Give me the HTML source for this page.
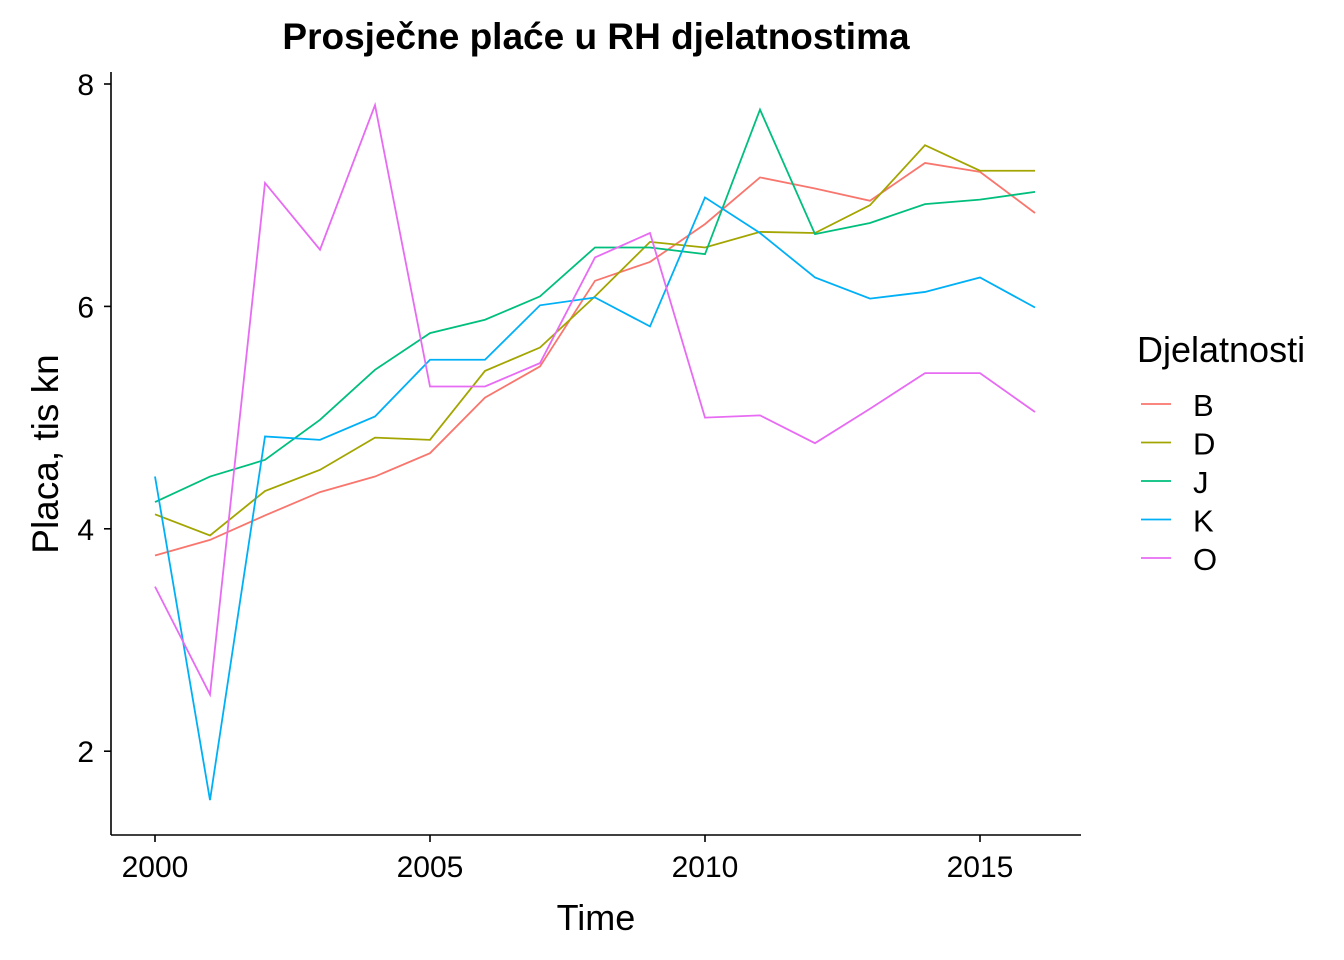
<!DOCTYPE html>
<html><head><meta charset="utf-8"><style>
body{margin:0;background:#fff;}
svg{display:block;font-family:"Liberation Sans",Arial,sans-serif;}
</style></head><body>
<svg id="chart" width="1344" height="960">
<text x="596" y="49" text-anchor="middle" font-size="37" font-weight="bold">Prosječne plaće u RH djelatnostima</text>
<g id="axes"></g>
<g id="lines"></g>
<text x="596" y="930" text-anchor="middle" font-size="36">Time</text>
<text transform="translate(58,454) rotate(-90)" text-anchor="middle" font-size="37">Placa, tis kn</text>
<text x="1137" y="362" font-size="36">Djelatnosti</text>
<g id="legend"></g>
</svg>
<script>
const years=[2000,2001,2002,2003,2004,2005,2006,2007,2008,2009,2010,2011,2012,2013,2014,2015,2016];
const seriesNames=["B","D","J","K","O"];
const seriesColors=["#F8766D","#A3A500","#00BF7D","#00B0F6","#E76BF3"];
const valuesB=[3.76,3.90,4.12,4.33,4.47,4.68,5.18,5.46,6.23,6.40,6.74,7.16,7.06,6.95,7.29,7.21,6.84];
const valuesD=[4.13,3.94,4.34,4.53,4.82,4.80,5.42,5.63,6.09,6.58,6.53,6.67,6.66,6.91,7.45,7.22,7.22];
const valuesJ=[4.24,4.47,4.62,4.98,5.43,5.76,5.88,6.09,6.53,6.53,6.47,7.77,6.65,6.75,6.92,6.96,7.03];
const valuesK=[4.47,1.56,4.83,4.80,5.01,5.52,5.52,6.01,6.08,5.82,6.98,6.66,6.26,6.07,6.13,6.26,5.99];
const valuesO=[3.48,2.51,7.11,6.51,7.81,5.28,5.28,5.49,6.44,6.66,5.00,5.02,4.77,5.08,5.40,5.40,5.05];
const xTicks=[2000,2005,2010,2015];
const yTicks=[2,4,6,8];
const allValues=[valuesB,valuesD,valuesJ,valuesK,valuesO];
const NS="http://www.w3.org/2000/svg";
const xs=v=>155+(v-2000)*55;
const ys=v=>84+(8-v)*111.2;
function mk(t,a,p){const e=document.createElementNS(NS,t);for(const k in a)e.setAttribute(k,a[k]);p.appendChild(e);return e;}
const ax=document.getElementById('axes');
const xl=mk('line',{x1:111,x2:1081,y1:835,y2:835,stroke:'#000','stroke-width':1.6},ax);


const yl=mk('line',{x1:111,x2:111,y1:72,y2:835,stroke:'#000','stroke-width':1.6},ax);


xTicks.forEach(t=>{
 mk('line',{x1:xs(t),x2:xs(t),y1:835,y2:842,stroke:'#000','stroke-width':1.6},ax);
 const tx=mk('text',{x:xs(t),y:877,'text-anchor':'middle','font-size':30},ax);tx.textContent=t;
 
 
});
yTicks.forEach(t=>{
 mk('line',{x1:104,x2:111,y1:ys(t),y2:ys(t),stroke:'#000','stroke-width':1.6},ax);
 const tx=mk('text',{x:94,y:ys(t)+11,'text-anchor':'end','font-size':30},ax);tx.textContent=t;
 
 
});
const lg=document.getElementById('lines');
allValues.forEach((vals,i)=>{
 const p=mk('polyline',{points:vals.map((v,j)=>xs(years[j])+','+ys(v)).join(' '),fill:'none',stroke:seriesColors[i],'stroke-width':1.8},lg);
 
 
});
const leg=document.getElementById('legend');
seriesNames.forEach((n,i)=>{
 const y=404+i*38.5;
 const l=mk('line',{x1:1141,x2:1171,y1:y,y2:y,stroke:seriesColors[i],'stroke-width':1.8},leg);
 
 
 const t=mk('text',{x:1193,y:y+12,'font-size':31},leg);t.textContent=n;
 
 
});
</script>
</body></html>
